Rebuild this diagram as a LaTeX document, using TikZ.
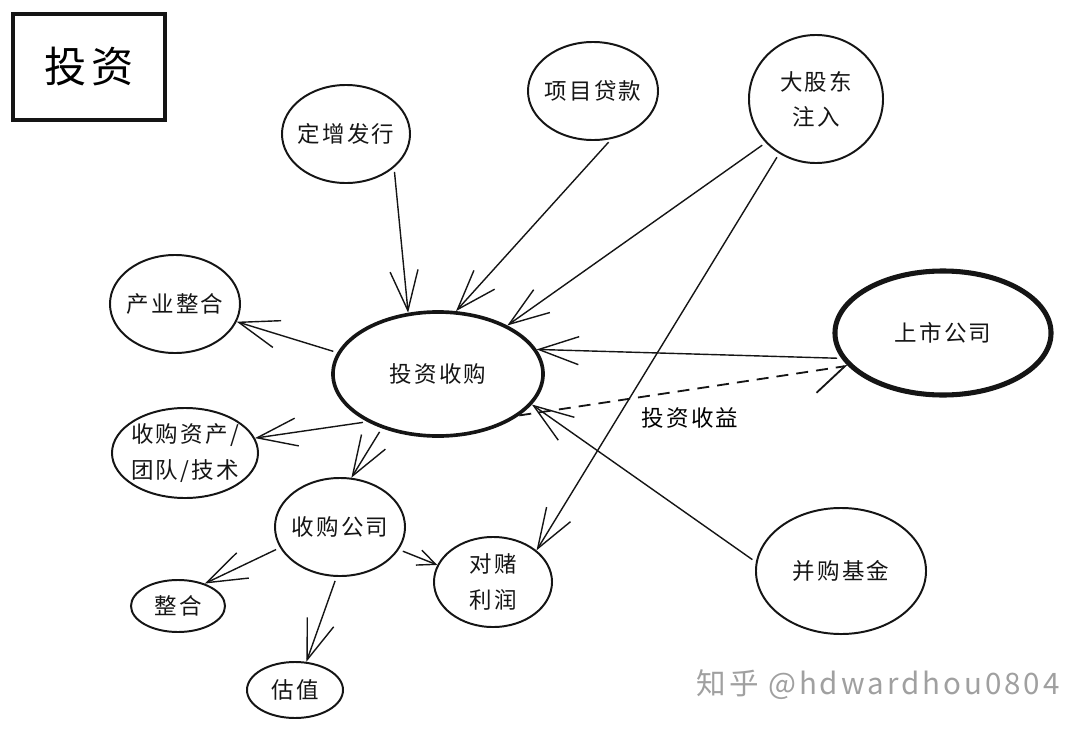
\documentclass[tikz,border=0pt]{standalone}
\usepackage{fontspec}
\setmainfont[LetterSpace=10]{Noto Sans CJK SC}
\usetikzlibrary{shapes.geometric,arrows.meta}

\definecolor{sketchink}{HTML}{151515}
\definecolor{markgray}{HTML}{A0A0A0}

\begin{document}
\begin{tikzpicture}[
    x=0.025cm, y=-0.025cm,
    font=\fontsize{16pt}{25pt}\selectfont,
    % Styles
    bubble/.style={
        ellipse, draw=sketchink, line width=1.4pt,
        align=center, text=sketchink,
        inner xsep=-0.25cm, inner ysep=0pt
    },
    keybubble/.style={bubble, line width=2.6pt},
    titlebox/.style={
        rectangle, draw=sketchink, line width=2.8pt,
        font=\fontsize{30pt}{34pt}\selectfont,
        minimum width=3.8cm, minimum height=2.65cm
    },
    link/.style={
        draw=sketchink, line width=1pt, shorten <=3pt,
        -{Straight Barb[length=1cm, width=0.7cm]}
    },
    shortlink/.style={link, -{Straight Barb[length=0.45cm, width=0.4cm]}},
    gainlink/.style={
        draw=sketchink, line width=1.3pt, dash pattern=on 0.3cm off 0.2cm,
        -{Straight Barb[right, length=0.8cm, width=1.1cm]}
    },
    watermarktext/.style={font=\fontsize{21pt}{24pt}\selectfont, text=markgray},
]

\useasboundingbox (0,0) rectangle (1080,730);

%--- Title ---%
\node[titlebox] (title) at (89,67) {投资};

%--- Sources of funds ---%
\node[bubble, minimum width=3.2cm,  minimum height=2.45cm] (dzfx) at (346,134) {定增发行};
\node[bubble, minimum width=3.25cm, minimum height=2.45cm] (xmdk) at (593,91)  {项目贷款};
\node[bubble, minimum width=3.35cm, minimum height=3.2cm]  (dgzr) at (816,99)  {大股东\\注入};
\node[bubble, minimum width=4.25cm, minimum height=3.15cm] (bgjj) at (841,571) {并购基金};

%--- Core ---%
\node[keybubble, minimum width=5.25cm, minimum height=3.1cm] (tzsg) at (438,374) {投资收购};
\node[keybubble, line width=3.6pt, minimum width=5.4cm, minimum height=3.1cm] (sssg) at (943,333) {上市公司};

%--- Uses ---%
\node[bubble, minimum width=3.25cm, minimum height=2.45cm] (cyzh) at (175,304) {产业整合};
\node[bubble, minimum width=3.65cm, minimum height=2.25cm] (sgzc) at (185,453) {收购资产/\\团队/技术};
\node[bubble, minimum width=3.25cm, minimum height=2.45cm] (sggs) at (340,527) {收购公司};
\node[bubble, minimum width=2.95cm, minimum height=2.25cm] (dbl)  at (493,582) {对赌\\利润};
\node[bubble, minimum width=2.35cm, minimum height=1.3cm]  (zh)   at (178,606) {整合};
\node[bubble, minimum width=2.4cm,  minimum height=1.4cm]  (gz)   at (295,690) {估值};

%--- Funds in ---
\draw[link] (dzfx.-35)  -- (tzsg.116);
\draw[link] (xmdk.-69)  -- (tzsg.74);
\draw[link] (dgzr.-139) -- (tzsg.35);
\draw[link] (dgzr.-124) -- (dbl.36);
\draw[link] (sssg.-166) -- (tzsg.14);
\draw[link] (bgjj.174)  -- (tzsg.-18);

%--- Return ---
\draw[gainlink] (tzsg.-27) -- (sssg.-161);
\node[font=\fontsize{16pt}{20pt}\selectfont] (gain) at (690,418) {投资收益};

%--- Funds out ---
\draw[link] (tzsg.168)  -- (cyzh.-16);
\draw[link] (tzsg.-146) -- (sgzc.12);
\draw[link] (tzsg.-136) -- (sggs.77);
\draw[link] (sggs.-161) -- (zh.40);
\draw[link] (sggs.-94)  -- (gz.68);
\draw[shortlink] (sggs.-21) -- (dbl.163);

%--- Watermark ---
\node[watermarktext] (mark) at (878,685) {知乎 @hdwardhou0804};

\end{tikzpicture}
\end{document}
